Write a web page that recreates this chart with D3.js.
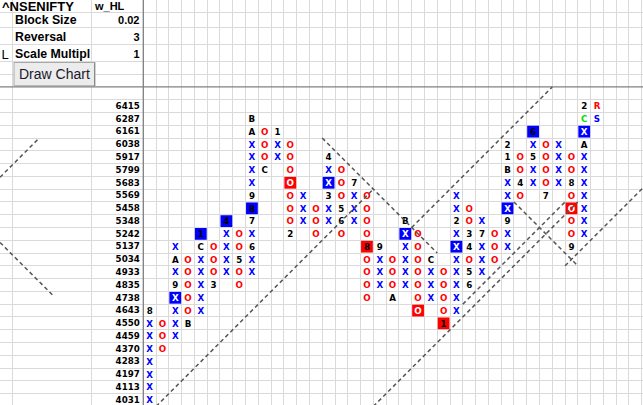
<!DOCTYPE html>
<html>
<head>
<meta charset="utf-8">
<script src="https://cdnjs.cloudflare.com/ajax/libs/d3/7.8.5/d3.min.js"></script>
<style>
  body { margin: 0; background: #fff; overflow: hidden; }
</style>
</head>
<body>
<script>
// box prices, top row to bottom row
let prices = [6415, 6287, 6161, 6038, 5917, 5799, 5683, 5569, 5458, 5348, 5242, 5137,
              5034, 4933, 4835, 4738, 4643, 4550, 4459, 4370, 4283, 4197, 4113, 4031];

// price of the top box of every P&F column
let columnTops = [4643, 4550, 5137, 5034, 5242, 5137, 5348, 5242, 6287, 6161, 6161, 6038,
                  5569, 5458, 5917, 5799, 5683, 5569, 5137, 5034, 5348, 5242, 5034, 4933,
                  5569, 5458, 5348, 5242, 6038, 5917, 6161, 6038, 6038, 5917, 6415, 6415];

// boxes of every column read downwards, '*' = highlighted box
let columnBoxes = ["8XXXXXXX", "OOO", "XAX9*XXXX", "OOOOOB", "*1CXXXXX", "OOO3", "*4XXXX", "OO5OO",
                   "BAXXXX9*87X6XX", "OOOC", "1XX", "OOO*OOOO2", "XXX", "OOO", "4X*X3XX", "OOO56O",
                   "7XXX", "OOOO*8OOOO", "9XXX", "OOOA", "B*XXXXX", "OOOOOO*O", "CXXX", "OOOO*1",
                   "XX2X*XXXXXX", "OO34O56", "X7XXX", "OOO", "21BXX*X9XX", "OO4O", "*6X5XX", "OOOO7",
                   "XXXX", "OO8O*OOO9", "2C*XAXXXXXXX", "RS"];

// glyphs drawn in green: [column, price]
let greenMarks = [[34, 6287]];

// 45 degree trend lines: [start column edge, start row edge, boxes, +1 up / -1 down]
let trendLines = [[1, 24, 17, 1], [14, 3, 9, -1], [21, 10, 11, 1], [18, 24, 16, 1],
                  [25, 16, 8, 1], [29, 8, 5, -1], [33, 13, 7, 1]];
// trend lines showing in the frozen left pane: [x in boxes, row edge, boxes, dir]
let paneLines = [[0, 6.07, 3.08, 1], [0, 11.17, 4.15, -1]];

// settings block
let settingLabels = ["Block Size", "Reversal", "Scale Multipl"];
let settingValues = ["0.02", "3", "1"];

let width = 643,
    height = 405;

let svg = d3
  .select('body')
  .append('svg')
    .attr('width', width)
    .attr('height', height)
    .style('background', '#ffffff')
    .style('display', 'block');

let x = d3.scaleBand()
  .domain(d3.range(39))
  .range([143.3, 143.3 + 39 * 12.78]);

let y = d3.scaleBand()
  .domain(prices)
  .range([99.7, 99.7 + prices.length * 12.78]);

let box = x.step();
let colEdge = i => x.range()[0] + i * box;
let rowEdge = e => y.range()[0] + e * y.step();

// grid
let grid = svg.append('g')
  .attr('stroke', '#dadada')
  .attr('stroke-width', 1)
  .attr('shape-rendering', 'crispEdges');

grid.selectAll('.v')
  .data(d3.range(40))
  .enter().append('line')
    .attr('x1', d => colEdge(d)).attr('x2', d => colEdge(d))
    .attr('y1', 0).attr('y2', height);

grid.selectAll('.pv')
  .data([12, 91.5])
  .enter().append('line')
    .attr('x1', d => d).attr('x2', d => d)
    .attr('y1', 0).attr('y2', height);

let headerRows = [12.7, 27.7, 44.3, 61.7, 74.3];
grid.selectAll('.hh')
  .data(headerRows)
  .enter().append('line')
    .attr('x1', 0).attr('x2', width)
    .attr('y1', d => d).attr('y2', d => d);

grid.selectAll('.h')
  .data(d3.range(prices.length + 1))
  .enter().append('line')
    .attr('x1', 0).attr('x2', width)
    .attr('y1', d => rowEdge(d)).attr('y2', d => rowEdge(d));

// frozen pane dividers
svg.append('line')
  .attr('x1', colEdge(0)).attr('x2', colEdge(0))
  .attr('y1', 0).attr('y2', height)
  .attr('stroke', '#808080').attr('stroke-width', 1.3);

svg.append('line')
  .attr('x1', 0).attr('x2', width)
  .attr('y1', rowEdge(-1)).attr('y2', rowEdge(-1))
  .attr('stroke', '#808080').attr('stroke-width', 1.3);

// price labels
svg.append('g').selectAll('text')
  .data(prices)
  .enter().append('text')
    .attr('x', colEdge(0) - 3.5)
    .attr('y', d => y(d) + y.bandwidth() / 2 + 2.8)
    .attr('text-anchor', 'end')
    .style('font-family', 'DejaVu Sans')
    .style('font-weight', 'bold')
    .style('font-size', '8.7px')
    .text(d => d);

// flatten the columns into cells
let cells = [];
columnBoxes.forEach((s, c) => {
  let r = prices.indexOf(columnTops[c]);
  let boxed = false;
  for (let ch of s) {
    if (ch === '*') { boxed = true; continue; }
    cells.push({ col: c, price: prices[r], glyph: ch, boxed: boxed, upCol: c % 2 === 0 });
    boxed = false;
    r++;
  }
});

let glyphColour = d => {
  if (greenMarks.some(m => m[0] === d.col && m[1] === d.price)) return '#00dd00';
  if (d.glyph === 'X' || d.glyph === 'S') return d.boxed ? '#ffffff' : '#0000ff';
  if (d.glyph === 'O' || d.glyph === 'R') return d.boxed ? '#ffffff' : '#ff0000';
  return '#000000';
};

svg.append('g').selectAll('rect')
  .data(cells.filter(d => d.boxed))
  .enter().append('rect')
    .attr('x', d => x(d.col) + 0.5)
    .attr('y', d => y(d.price) + 0.5)
    .attr('width', box - 1)
    .attr('height', y.step() - 1)
    .attr('fill', d => d.upCol ? '#0000ff' : '#ff0000');

svg.append('g').selectAll('text')
  .data(cells)
  .enter().append('text')
    .attr('x', d => x(d.col) + box / 2)
    .attr('y', d => y(d.price) + y.bandwidth() / 2 + 3.2)
    .attr('text-anchor', 'middle')
    .attr('fill', glyphColour)
    .style('font-family', 'DejaVu Sans')
    .style('font-weight', 'bold')
    .style('font-size', '8.7px')
    .text(d => d.glyph);

// trend lines
let dashed = svg.append('g')
  .attr('stroke', '#555555')
  .attr('stroke-width', 1.5)
  .attr('stroke-dasharray', '4,3')
  .attr('fill', 'none');

dashed.selectAll('.t')
  .data(trendLines)
  .enter().append('line')
    .attr('x1', d => colEdge(d[0]))
    .attr('y1', d => rowEdge(d[1]))
    .attr('x2', d => colEdge(d[0] + d[2]))
    .attr('y2', d => rowEdge(d[1] - d[3] * d[2]));

dashed.selectAll('.p')
  .data(paneLines)
  .enter().append('line')
    .attr('x1', d => d[0] * box)
    .attr('y1', d => rowEdge(d[1]))
    .attr('x2', d => (d[0] + d[2]) * box)
    .attr('y2', d => rowEdge(d[1] - d[3] * d[2]));

// settings block
let head = svg.append('g')
  .style('font-family', 'Liberation Sans, Arial, sans-serif')
  .style('font-weight', 'bold')
  .attr('fill', '#000');

head.append('text')
  .attr('x', 2).attr('y', 10.5)
  .style('font-size', '13px')
  .text('^NSENIFTY');

head.append('text')
  .attr('x', 95).attr('y', 9.5)
  .style('font-size', '11px')
  .text('w_HL');

let rowBase = [24.4, 40.6, 57.8];

head.selectAll('.lab')
  .data(settingLabels)
  .enter().append('text')
    .attr('x', 15)
    .attr('y', (d, i) => rowBase[i])
    .style('font-size', '12.3px')
    .text(d => d);

head.selectAll('.val')
  .data(settingValues)
  .enter().append('text')
    .attr('x', 139.5)
    .attr('y', (d, i) => rowBase[i])
    .attr('text-anchor', 'end')
    .style('font-size', '11px')
    .text(d => d);

head.append('text')
  .attr('x', 1.5).attr('y', 58.5)
  .style('font-size', '13px')
  .style('font-weight', 'normal')
  .text('L');

// button
let button = svg.append('g');
button.append('rect')
  .attr('x', 14).attr('y', 62.5)
  .attr('width', 81).attr('height', 24)
  .attr('fill', '#ececec')
  .attr('stroke', '#a8a8a8')
  .attr('stroke-width', 1);
button.append('line')
  .attr('x1', 94.5).attr('x2', 94.5).attr('y1', 63).attr('y2', 86.5)
  .attr('stroke', '#8a8a8a');
button.append('line')
  .attr('x1', 14.5).attr('x2', 95).attr('y1', 86).attr('y2', 86)
  .attr('stroke', '#8a8a8a');
button.append('text')
  .attr('x', 19).attr('y', 79.2)
  .style('font-family', 'Liberation Sans, Arial, sans-serif')
  .style('font-size', '14px')
  .attr('fill', '#1a1a2a')
  .text('Draw Chart');
</script>
</body>
</html>
